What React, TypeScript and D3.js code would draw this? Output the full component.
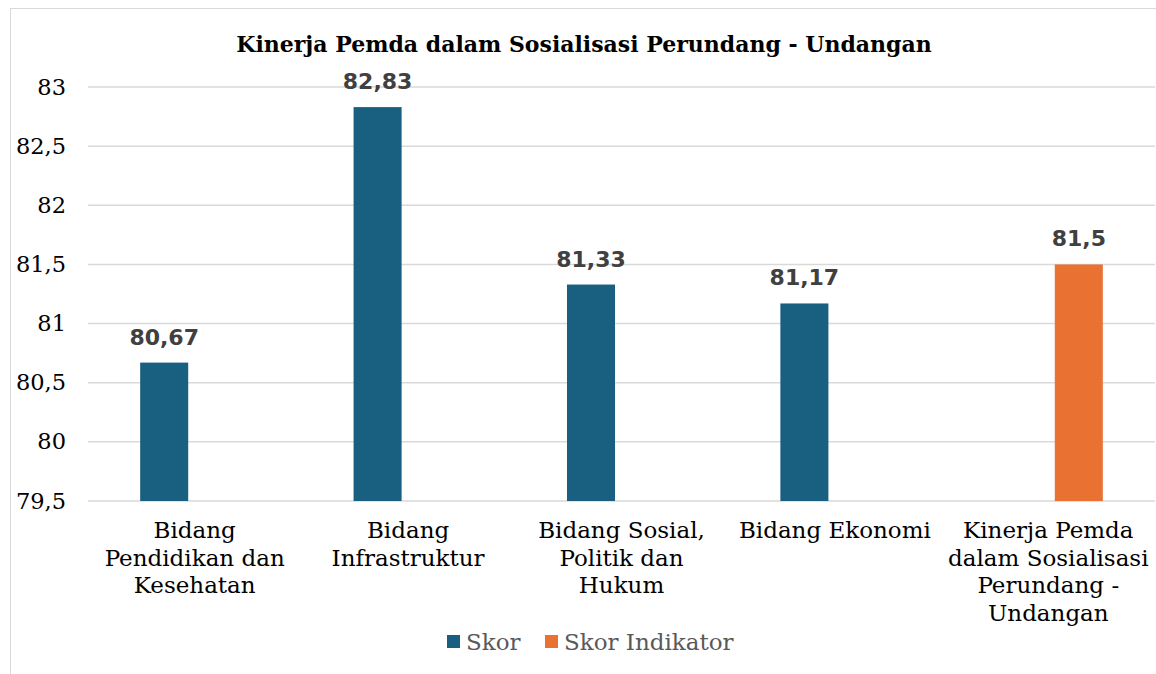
import React from "react";
import * as d3 from "d3";

const categories: string[][] = [
  ["Bidang", "Pendidikan dan", "Kesehatan"],
  ["Bidang", "Infrastruktur"],
  ["Bidang Sosial,", "Politik dan", "Hukum"],
  ["Bidang Ekonomi"],
  ["Kinerja Pemda", "dalam Sosialisasi", "Perundang -", "Undangan"],
];
const seriesNames = ["Skor", "Skor Indikator"];
const skor: (number | null)[] = [80.67, 82.83, 81.33, 81.17, null];
const skorIndikator: (number | null)[] = [null, null, null, null, 81.5];
const yTicks = [79.5, 80, 80.5, 81, 81.5, 82, 82.5, 83];
const title = "Kinerja Pemda dalam Sosialisasi Perundang - Undangan";
const colors = ["#185F80", "#E97132"];

const W = 1156, H = 674;
const plotL = 88, plotR = 1155, plotT = 87, plotB = 501;
const serif = "'DejaVu Serif', serif";

const fmt = (v: number) => String(v).replace(".", ",");

export default function App() {
  const x = d3.scaleBand<number>().domain(d3.range(categories.length)).range([plotL, plotR]).paddingInner(0).paddingOuter(0);
  const inner = d3.scaleBand<number>().domain([0, 1]).range([0, x.bandwidth()]).paddingInner(0.213).paddingOuter(0.855);
  const y = d3.scaleLinear().domain([79.5, 83]).range([plotB, plotT]);
  const series = [skor, skorIndikator];

  return (
    <svg width={W} height={H} style={{ position: "absolute", left: 0, top: 0, background: "#fff" }}>
      <rect x={10.5} y={8.5} width={1160} height={700} fill="#fff" stroke="#D9D9D9" strokeWidth={1} />
      <text x={584} y={52} textAnchor="middle" fontFamily={serif} fontWeight="bold" fontSize={22} fill="#000">
        {title}
      </text>
      {yTicks.map((t) => (
        <g key={t}>
          <line x1={plotL} x2={plotR} y1={y(t)} y2={y(t)} stroke="#D9D9D9" strokeWidth={1.5} />
          <text x={66} y={y(t) + 7.5} textAnchor="end" fontFamily={serif} fontSize={22.5} fill="#000">
            {fmt(t)}
          </text>
        </g>
      ))}
      {series.map((vals, si) =>
        vals.map((v, ci) => {
          if (v == null) return null;
          const bx = (x(ci) as number) + (inner(si) as number);
          const bw = inner.bandwidth();
          return (
            <g key={`${si}-${ci}`}>
              <rect x={bx} y={y(v)} width={bw} height={plotB - y(v)} fill={colors[si]} />
              <text x={bx + bw / 2} y={y(v) - 18} textAnchor="middle" fontFamily="'DejaVu Sans', sans-serif" fontWeight="bold" fontSize={22} fill="#404040">
                {fmt(v)}
              </text>
            </g>
          );
        })
      )}
      {categories.map((lines, ci) => (
        <text key={ci} textAnchor="middle" fontFamily={serif} fontSize={23} fill="#000">
          {lines.map((ln, li) => (
            <tspan key={li} x={(x(ci) as number) + x.bandwidth() / 2} y={538 + li * 27.5}>
              {ln}
            </tspan>
          ))}
        </text>
      ))}
      {seriesNames.map((name, si) => {
        const lx = si === 0 ? 447 : 545;
        return (
          <g key={name}>
            <rect x={lx} y={635} width={13} height={13} fill={colors[si]} />
            <text x={lx + 19} y={650} fontFamily={serif} fontSize={23} fill="#595959">
              {name}
            </text>
          </g>
        );
      })}
    </svg>
  );
}
